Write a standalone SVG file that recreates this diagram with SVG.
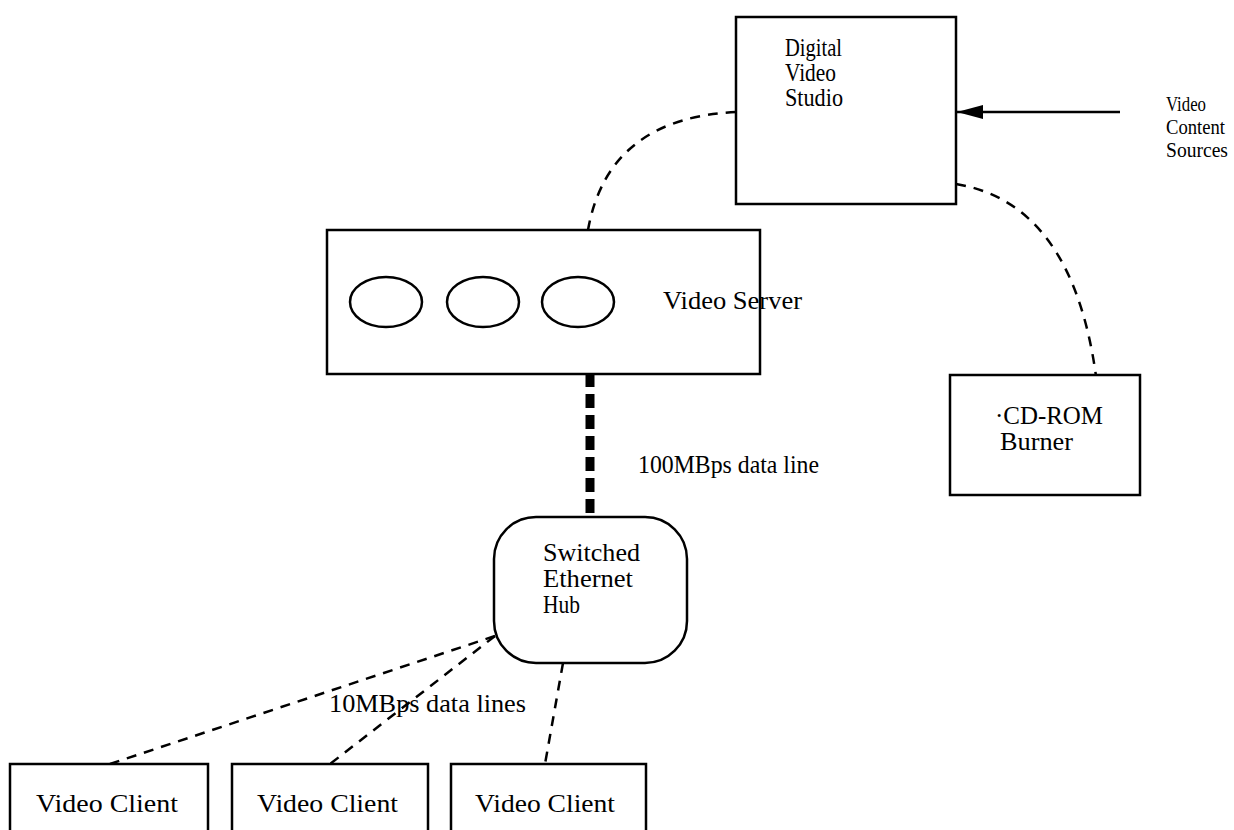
<svg xmlns="http://www.w3.org/2000/svg" width="1234" height="830" viewBox="0 0 1234 830">
<style>
.box{fill:#fff;stroke:#000;stroke-width:2.5}
.t{font-family:"Liberation Serif","Times New Roman",serif;font-size:25px;fill:#000}
.s{font-family:"Liberation Serif","Times New Roman",serif;font-size:21px;fill:#000}
.dash{fill:none;stroke:#000;stroke-width:2.5;stroke-dasharray:10 8}
.thick{fill:none;stroke:#000;stroke-width:9;stroke-dasharray:14 7}
.solid{fill:none;stroke:#000;stroke-width:2.5}
</style>
<defs>
<marker id="ah" viewBox="0 0 26 14" refX="26" refY="7" markerWidth="26" markerHeight="14" markerUnits="userSpaceOnUse" orient="auto">
<path d="M0,0 L26,7 L0,14 z" fill="#000"/>
</marker>
</defs>
<rect width="1234" height="830" fill="#fff"/>
<g id="connectors">
<path class="dash" d="M736,112 Q608,118 588,230"/>
<path class="dash" d="M956,184 Q1072,203 1096,376"/>
<line class="solid" x1="1120" y1="112" x2="957" y2="112" marker-end="url(#ah)"/>
<line class="thick" x1="590" y1="373" x2="590" y2="548"/>
<line class="dash" x1="495" y1="636" x2="110" y2="764"/>
<line class="dash" x1="495" y1="636" x2="330" y2="764"/>
<line class="dash" x1="563" y1="663" x2="545" y2="764"/>
</g>
<g id="studio">
<rect class="box" x="736" y="17" width="220" height="187"/>
<text class="t" x="785" y="56" textLength="57" lengthAdjust="spacingAndGlyphs">Digital</text>
<text class="t" x="785" y="81" textLength="51" lengthAdjust="spacingAndGlyphs">Video</text>
<text class="t" x="785" y="106" textLength="58" lengthAdjust="spacingAndGlyphs">Studio</text>
</g>
<g id="sources">
<text class="s" x="1166" y="111" textLength="40" lengthAdjust="spacingAndGlyphs">Video</text>
<text class="s" x="1166" y="134" textLength="59" lengthAdjust="spacingAndGlyphs">Content</text>
<text class="s" x="1166" y="157" textLength="62" lengthAdjust="spacingAndGlyphs">Sources</text>
</g>
<g id="server">
<rect class="box" x="327" y="230" width="433" height="144"/>
<ellipse class="box" cx="386" cy="302" rx="36" ry="25"/>
<ellipse class="box" cx="483" cy="302" rx="36" ry="25"/>
<ellipse class="box" cx="578" cy="302" rx="36" ry="25"/>
<text class="t" x="663" y="309" textLength="139" lengthAdjust="spacingAndGlyphs">Video Server</text>
</g>
<g id="label-100">
<text class="t" x="638" y="473" textLength="181" lengthAdjust="spacingAndGlyphs">100MBps data line</text>
</g>
<g id="cdrom">
<rect class="box" x="950" y="375" width="190" height="120"/>
<text class="t" x="995" y="424" textLength="108" lengthAdjust="spacingAndGlyphs">·CD-ROM</text>
<text class="t" x="1000" y="450" textLength="73" lengthAdjust="spacingAndGlyphs">Burner</text>
</g>
<g id="hub">
<rect class="box" x="494" y="517" width="193" height="146" rx="42" ry="42"/>
<text class="t" x="543" y="561" textLength="97" lengthAdjust="spacingAndGlyphs">Switched</text>
<text class="t" x="543" y="587" textLength="90" lengthAdjust="spacingAndGlyphs">Ethernet</text>
<text class="t" x="543" y="613" textLength="37" lengthAdjust="spacingAndGlyphs">Hub</text>
</g>
<g id="label-10">
<text class="t" x="329" y="712" textLength="197" lengthAdjust="spacingAndGlyphs">10MBps data lines</text>
</g>
<g id="client1">
<rect class="box" x="10" y="764" width="198" height="80"/>
<text class="t" x="36" y="812" textLength="142" lengthAdjust="spacingAndGlyphs">Video Client</text>
</g>
<g id="client2">
<rect class="box" x="232" y="764" width="196" height="80"/>
<text class="t" x="257" y="812" textLength="141" lengthAdjust="spacingAndGlyphs">Video Client</text>
</g>
<g id="client3">
<rect class="box" x="451" y="764" width="195" height="80"/>
<text class="t" x="475" y="812" textLength="140" lengthAdjust="spacingAndGlyphs">Video Client</text>
</g>
</svg>
